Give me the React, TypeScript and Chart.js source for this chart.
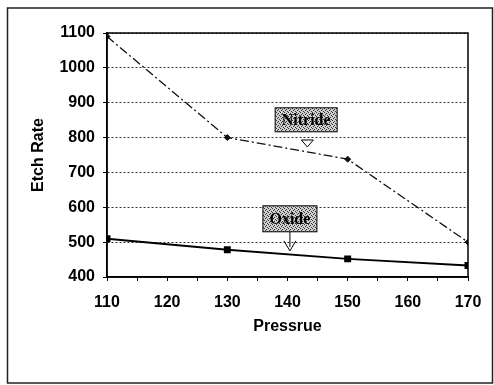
import { useEffect, useRef } from "react";
import { Chart, registerables } from "chart.js";
Chart.register(...registerables);

const pressure = [110, 130, 150, 170];
const nitride = [1090, 800, 738, 500];
const oxide = [510, 478, 452, 433];
const xTitle = "Pressrue";
const yTitle = "Etch Rate";
const labelNames = ["Nitride", "Oxide"];

function makePattern(ctx: CanvasRenderingContext2D) {
  const c = document.createElement("canvas");
  c.width = 4;
  c.height = 4;
  const p = c.getContext("2d")!;
  p.fillStyle = "#cfcfcf";
  p.fillRect(0, 0, 4, 4);
  p.fillStyle = "#333";
  p.fillRect(0, 0, 1, 1);
  p.fillRect(2, 1, 1, 1);
  p.fillRect(1, 2, 1, 1);
  p.fillRect(3, 3, 1, 1);
  return ctx.createPattern(c, "repeat") || "#aaa";
}

const decor = {
  id: "decor",
  beforeDraw(chart: any) {
    const ctx = chart.ctx;
    ctx.save();
    ctx.fillStyle = "#fff";
    ctx.fillRect(0, 0, chart.width, chart.height);
    ctx.strokeStyle = "#222";
    ctx.lineWidth = 1.5;
    ctx.strokeRect(7.5, 8, 485, 375);
    ctx.restore();
  },
  afterDraw(chart: any) {
    const ctx = chart.ctx;
    const xs = chart.scales.x;
    const ys = chart.scales.y;
    const a = chart.chartArea;
    ctx.save();
    ctx.setLineDash([]);
    ctx.strokeStyle = "#000";
    ctx.lineWidth = 1.5;
    ctx.strokeRect(a.left, a.top, a.right - a.left, a.bottom - a.top);

    const pat = makePattern(ctx);
    ctx.font = "bold 16px 'Liberation Serif'";
    ctx.textAlign = "center";
    ctx.textBaseline = "middle";

    // Nitride label
    {
      const cx = xs.getPixelForValue(143.1);
      const cy = ys.getPixelForValue(851);
      const w = 62, h = 24;
      ctx.fillStyle = pat;
      ctx.fillRect(cx - w / 2, cy - h / 2, w, h);
      ctx.lineWidth = 1;
      ctx.strokeStyle = "#000";
      ctx.strokeRect(cx - w / 2, cy - h / 2, w, h);
      ctx.fillStyle = "#000";
      ctx.fillText(labelNames[0], cx, cy + 1);
      const tx = xs.getPixelForValue(143.3);
      const ty = ys.getPixelForValue(773);
      ctx.fillStyle = "#fff";
      ctx.beginPath();
      ctx.moveTo(tx - 6, ty - 7);
      ctx.lineTo(tx + 6, ty - 7);
      ctx.lineTo(tx, ty);
      ctx.closePath();
      ctx.fill();
      ctx.stroke();
    }
    // Oxide label
    {
      const cx = xs.getPixelForValue(140.4);
      const cy = ys.getPixelForValue(567);
      const w = 54, h = 26;
      ctx.fillStyle = pat;
      ctx.fillRect(cx - w / 2, cy - h / 2, w, h);
      ctx.lineWidth = 1;
      ctx.strokeStyle = "#000";
      ctx.strokeRect(cx - w / 2, cy - h / 2, w, h);
      ctx.fillStyle = "#000";
      ctx.fillText(labelNames[1], cx, cy + 1);
      const ty = ys.getPixelForValue(475);
      ctx.beginPath();
      ctx.moveTo(cx, cy + h / 2);
      ctx.lineTo(cx, ty - 4);
      ctx.moveTo(cx - 6, ty - 10);
      ctx.lineTo(cx, ty);
      ctx.lineTo(cx + 6, ty - 10);
      ctx.stroke();
    }
    ctx.restore();
  },
};

export default function App() {
  const ref = useRef<HTMLCanvasElement>(null);
  useEffect(() => {
    const chart = new Chart(ref.current!, {
      type: "line",
      data: {
        datasets: [
          {
            label: labelNames[0],
            data: pressure.map((p, i) => ({ x: p, y: nitride[i] })),
            borderColor: "#111",
            backgroundColor: "#111",
            borderWidth: 1.3,
            borderDash: [9, 3, 2, 3],
            pointStyle: "rectRot",
            pointRadius: 3,
            pointBorderWidth: 1,
            fill: false,
          },
          {
            label: labelNames[1],
            data: pressure.map((p, i) => ({ x: p, y: oxide[i] })),
            borderColor: "#000",
            backgroundColor: "#000",
            borderWidth: 2,
            pointStyle: "rect",
            pointRadius: 3.5,
            fill: false,
          },
        ],
      },
      options: {
        responsive: false,
        animation: false,
        events: [],
        layout: { padding: { left: 0, top: 33, right: 26, bottom: 48 } },
        plugins: { legend: { display: false }, tooltip: { enabled: false } },
        scales: {
          x: {
            type: "linear",
            min: 110,
            max: 170,
            afterFit: (s: any) => { s.height = 60; },
            ticks: {
              stepSize: 5,
              color: "#000",
              padding: 12,
              maxRotation: 0,
              autoSkip: false,
              font: { family: "'Liberation Sans'", size: 16, weight: "bold" },
              callback: (v: any) => (Number(v) % 10 === 0 ? String(v) : ""),
            },
            grid: {
              drawOnChartArea: false,
              color: "#000",
              tickLength: 4,
              lineWidth: 1,
            },
            border: { color: "#000", width: 1.5 },
            title: {
              display: true,
              text: xTitle,
              color: "#000",
              font: { family: "'Liberation Sans'", size: 16, weight: "bold" },
              padding: { top: 0, bottom: 1 },
            },
          },
          y: {
            min: 400,
            max: 1100,
            afterFit: (s: any) => { s.width = 107; },
            ticks: {
              stepSize: 100,
              color: "#000",
              padding: 8,
              font: { family: "'Liberation Sans'", size: 16, weight: "bold" },
              callback: (v: any) => String(v),
            },
            grid: {
              color: "#333",
              lineWidth: 1,
              tickLength: 4,
              tickBorderDash: [],
              tickColor: "#000",
            } as any,
            border: { color: "#000", width: 1.5, dash: [2, 2] },
            title: {
              display: true,
              text: yTitle,
              color: "#000",
              font: { family: "'Liberation Sans'", size: 16, weight: "bold" },
              padding: { top: 29, bottom: 0 },
            },
          },
        },
      },
      plugins: [decor],
    });
    return () => chart.destroy();
  }, []);
  return (
    <div style={{ position: "fixed", left: 0, top: 0, width: 494, height: 385 }}>
      <canvas ref={ref} width={494} height={385} style={{ display: "block" }} />
    </div>
  );
}
